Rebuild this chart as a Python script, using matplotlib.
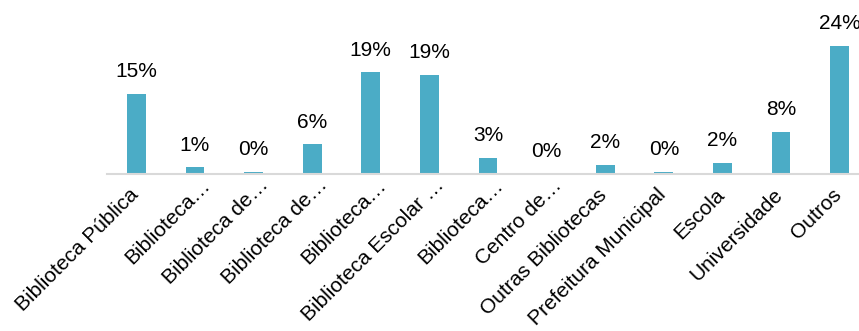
import numpy as np
import matplotlib
matplotlib.use("Agg")
import matplotlib.pyplot as plt
import matplotlib.transforms as mtransforms

plt.rcParams['font.family'] = ['Liberation Sans', 'DejaVu Sans']

categories = ["Biblioteca Pública", "Biblioteca…", "Biblioteca de…", "Biblioteca de…",
              "Biblioteca…", "Biblioteca Escolar …", "Biblioteca…", "Centro de…",
              "Outras Bibliotecas", "Prefeitura Municipal", "Escola", "Universidade", "Outros"]
# shares (fraction of total)
values = [0.150, 0.013, 0.004, 0.056, 0.191, 0.186, 0.030, 0.000,
          0.017, 0.004, 0.021, 0.079, 0.240]

bar_color = "#4BACC6"

fig = plt.figure(figsize=(8.59, 3.31), dpi=100)
ax = fig.add_axes([107 / 859, 1 - 174 / 331, 752 / 859, 174 / 331])

x = np.arange(len(categories))
ax.bar(x, values, width=0.32, color=bar_color, zorder=2)

for xi, v in zip(x, values):
    ax.annotate("%d%%" % round(v * 100), (xi, v), xytext=(0, 9), textcoords="offset points",
                ha="center", va="bottom", fontsize=15, color="black")

ax.set_xlim(-0.5, 12.33)
ax.set_ylim(0, 0.326)

for s in ["top", "right", "left"]:
    ax.spines[s].set_visible(False)
ax.spines["bottom"].set_color("#d9d9d9")
ax.spines["bottom"].set_linewidth(1.5)
ax.set_yticks([])

ax.set_xticks(x)
ax.set_xticklabels(categories, rotation=45, ha="right", va="baseline",
                   rotation_mode="anchor", fontsize=15, color="black")
ax.tick_params(axis="x", length=0, pad=15.8)

# truncated labels sit further up along the slant, like the original
for lab in ax.get_xticklabels():
    if lab.get_text().endswith("…"):
        dx, dy = 16, 10
    else:
        dx, dy = 3, 0
    lab.set_transform(lab.get_transform() +
                      mtransforms.ScaledTranslation(dx / 100, dy / 100, fig.dpi_scale_trans))

fig.savefig("out.png", dpi=100)
